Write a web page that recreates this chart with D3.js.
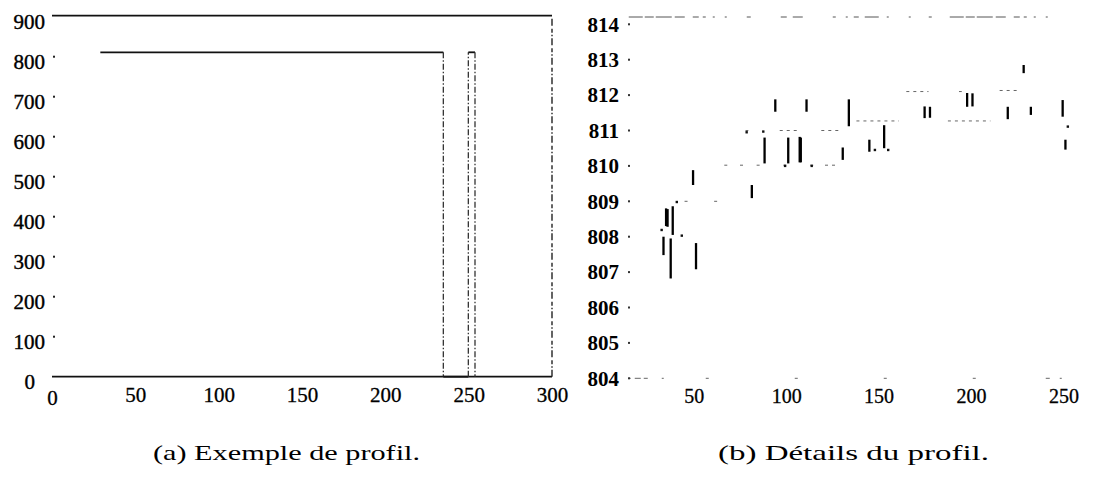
<!DOCTYPE html>
<html>
<head>
<meta charset="utf-8">
<script src="https://cdn.jsdelivr.net/npm/d3@7"></script>
<style>
  body { margin: 0; background: #fff; }
  text { font-family: "Liberation Serif", "DejaVu Serif", serif; fill: #000; }
</style>
</head>
<body>
<div id="chart"></div>
<script>
// (a) whole profile
const leftXTicks = [0, 50, 100, 150, 200, 250, 300];
const leftYTicks = [0, 100, 200, 300, 400, 500, 600, 700, 800, 900];
const profileX = [29, 234.8, 234.8, 249.8, 249.8, 253.8, 253.8];
const profileY = [811, 811, 0, 0, 811, 811, 0];

// (b) detail of the profile
const detailXTicks = [50, 100, 150, 200, 250];
const detailYTicks = [804, 805, 806, 807, 808, 809, 810, 811, 812, 813, 814];
// vertical jumps of the profile
const jumpX    = [33.6, 35.0, 35.8, 37.5, 38.6, 49.6, 51.2, 81.4, 88.3, 94.1, 101.1, 107.3, 107.9, 111.0, 130.6, 133.9, 145.0, 153.0, 174.9, 177.8, 197.9, 200.8, 219.9, 228.5, 232.4, 249.6, 251.1];
const jumpLow  = [807.48, 808.30, 808.28, 806.82, 808.05, 809.46, 807.08, 809.09, 810.07, 811.53, 810.07, 810.10, 810.10, 811.53, 810.17, 811.12, 810.40, 810.50, 811.35, 811.36, 811.67, 811.68, 811.32, 812.62, 811.44, 811.39, 810.46];
const jumpHigh = [808.00, 808.80, 808.78, 807.95, 808.86, 809.88, 807.82, 809.46, 810.80, 811.88, 810.80, 810.82, 810.80, 811.88, 810.52, 811.88, 810.74, 811.15, 811.68, 811.67, 812.06, 812.05, 811.67, 812.85, 811.67, 811.86, 810.74];
// isolated points
const dotX = [32.6, 40.8, 43.5, 148.0, 155.2, 252.4, 78.6, 87.6, 99.4, 113.8];
const dotY = [808.19, 808.98, 808.03, 810.45, 810.45, 811.11, 810.95, 810.97, 810.0, 810.0];
// faint flat stretches
const levelX0 = [45.0, 61.0, 66.5, 75.0, 84.0, 98.5, 113.0, 121.0, 78.0, 96.5, 119.0, 138.0, 187.5, 165.0, 193.5, 215.5];
const levelX1 = [48.5, 63.0, 68.5, 77.6, 86.8, 100.0, 115.0, 127.3, 79.5, 106.0, 129.0, 161.0, 210.5, 177.0, 195.0, 226.5];
const levelY  = [809.0, 809.0, 810.02, 810.02, 810.02, 810.02, 810.02, 810.02, 811.0, 811.0, 811.0, 811.27, 811.27, 812.1, 812.1, 812.13];

const svg = d3.select('#chart')
  .append('svg')
  .attr('width', 1115)
  .attr('height', 477);

// ---------- left chart ----------
const xa = d3.scaleLinear().domain([0, 300]).range([52, 552]);
const ya = d3.scaleLinear().domain([0, 900]).range([376.7, 16.7]);

const ga = svg.append('g');

// frame: top, bottom solid, right dashed
ga.append('line')
  .attr('x1', xa(0)).attr('x2', xa(300))
  .attr('y1', ya(900) - 1).attr('y2', ya(900) - 1)
  .attr('stroke', '#111').attr('stroke-width', 1.8);
ga.append('line')
  .attr('x1', xa(0)).attr('x2', xa(300))
  .attr('y1', ya(0)).attr('y2', ya(0))
  .attr('stroke', '#111').attr('stroke-width', 1.8);
ga.append('line')
  .attr('x1', xa(300)).attr('x2', xa(300))
  .attr('y1', ya(0)).attr('y2', ya(900))
  .attr('stroke', '#222').attr('stroke-width', 1.4)
  .attr('stroke-dasharray', '7,2,1.5,2,4,3');

// profile segments
const segs = d3.range(profileX.length - 1).map(i => ({
  x1: profileX[i], y1: profileY[i], x2: profileX[i + 1], y2: profileY[i + 1]
}));
ga.selectAll('line.seg')
  .data(segs)
  .enter()
  .append('line')
  .attr('class', 'seg')
  .attr('x1', d => xa(d.x1)).attr('x2', d => xa(d.x2))
  .attr('y1', d => ya(d.y1)).attr('y2', d => ya(d.y2))
  .attr('stroke', d => d.x1 === d.x2 ? '#333' : '#111')
  .attr('stroke-width', d => d.x1 === d.x2 ? 1.3 : 1.8)
  .attr('stroke-dasharray', d => d.x1 === d.x2 ? '6,2,1.5,2' : null);

// axes
const axLeftA = ga.append('g')
  .attr('transform', 'translate(45,0)')
  .call(d3.axisLeft(ya).tickValues(leftYTicks).tickSize(0).tickPadding(0));
axLeftA.select('.domain').remove();
axLeftA.selectAll('text')
  .attr('y', 5)
  .attr('dx', d => d === 0 ? -10 : 0)
  .style('font-size', '21px')
  .style('font-family', '"Liberation Serif", serif')
  .style('stroke', '#000').style('stroke-width', 0.4);

ga.selectAll('rect.tickdot')
  .data(leftYTicks.filter(d => d > 0 && d < 900))
  .enter()
  .append('rect')
  .attr('class', 'tickdot')
  .attr('x', 53).attr('y', d => ya(d) - 1)
  .attr('width', 2).attr('height', 2)
  .attr('fill', '#222');

const axBottomA = ga.append('g')
  .attr('transform', 'translate(0,' + ya(0) + ')')
  .call(d3.axisBottom(xa).tickValues(leftXTicks).tickSize(0));
axBottomA.select('.domain').remove();
axBottomA.selectAll('text')
  .attr('y', d => d === 0 ? 21 : 18)
  .attr('dy', '0.35em')
  .style('font-size', '21px')
  .style('font-family', '"Liberation Serif", serif')
  .style('stroke', '#000').style('stroke-width', 0.3);

// ---------- right chart ----------
const xb = d3.scaleLinear().domain([0, 250]).range([601.4, 1063.4]);
const yb = d3.scaleLinear().domain([804, 814]).range([378.3, 24.3]);

const gb = svg.append('g');

gb.append('line')
  .attr('x1', xb(14.8)).attr('x2', xb(251))
  .attr('y1', 17).attr('y2', 17)
  .attr('stroke', '#555').attr('stroke-width', 1)
  .attr('stroke-dasharray', '14,2,9,2,16,3,10,8,6,4,3,7,2,10,2,20,4,30,6,6,10,30,3,10,2,6,5,6,14,8,2,20,2,18,3,18');
gb.append('line')
  .attr('x1', xb(14.8)).attr('x2', xb(251))
  .attr('y1', yb(804)).attr('y2', yb(804))
  .attr('stroke', '#666').attr('stroke-width', 1)
  .attr('stroke-dasharray', '2,4,6,3,4,14,2,42,3,86,3,86,3,86,3,70,4,10');

gb.selectAll('line.level')
  .data(levelY.map((v, i) => ({ x0: levelX0[i], x1: levelX1[i], y: v })))
  .enter()
  .append('line')
  .attr('class', 'level')
  .attr('x1', d => xb(d.x0)).attr('x2', d => xb(d.x1))
  .attr('y1', d => yb(d.y)).attr('y2', d => yb(d.y))
  .attr('stroke', '#666').attr('stroke-width', 1)
  .attr('stroke-dasharray', '3,4');

gb.selectAll('line.jump')
  .data(jumpX.map((x, i) => ({ x: x, lo: jumpLow[i], hi: jumpHigh[i] })))
  .enter()
  .append('line')
  .attr('class', 'jump')
  .attr('x1', d => xb(d.x)).attr('x2', d => xb(d.x))
  .attr('y1', d => yb(d.lo)).attr('y2', d => yb(d.hi))
  .attr('stroke', '#000').attr('stroke-width', 2.3);

gb.selectAll('rect.dot')
  .data(dotX.map((x, i) => ({ x: x, y: dotY[i] })))
  .enter()
  .append('rect')
  .attr('class', 'dot')
  .attr('x', d => xb(d.x) - 1.2).attr('y', d => yb(d.y) - 1.2)
  .attr('width', 2.4).attr('height', 2.4)
  .attr('fill', '#111');

const axLeftB = gb.append('g')
  .attr('transform', 'translate(619,0)')
  .call(d3.axisLeft(yb).tickValues(detailYTicks).tickSize(0).tickPadding(0));
axLeftB.select('.domain').remove();
axLeftB.selectAll('text')
  .style('font-size', '21px')
  .style('font-weight', 'bold')
  .style('font-family', '"Liberation Serif", serif');

gb.selectAll('rect.tickdot')
  .data(detailYTicks)
  .enter()
  .append('rect')
  .attr('class', 'tickdot')
  .attr('x', 628).attr('y', d => yb(d) - 1)
  .attr('width', 2).attr('height', 2)
  .attr('fill', '#333');

const axBottomB = gb.append('g')
  .attr('transform', 'translate(0,' + yb(804) + ')')
  .call(d3.axisBottom(xb).tickValues(detailXTicks).tickSize(0));
axBottomB.select('.domain').remove();
axBottomB.selectAll('text')
  .attr('y', 18)
  .attr('dy', '0.35em')
  .style('font-size', '20px')
  .style('font-family', '"Liberation Serif", serif')
  .style('stroke', '#000').style('stroke-width', 0.3);

// ---------- captions ----------
svg.append('text')
  .attr('x', 286.5).attr('y', 455)
  .attr('text-anchor', 'middle')
  .attr('dominant-baseline', 'middle')
  .attr('textLength', 267).attr('lengthAdjust', 'spacingAndGlyphs')
  .style('font-size', '21px')
  .text('(a) Exemple de profil.');

svg.append('text')
  .attr('x', 853.5).attr('y', 455)
  .attr('text-anchor', 'middle')
  .attr('dominant-baseline', 'middle')
  .attr('textLength', 271).attr('lengthAdjust', 'spacingAndGlyphs')
  .style('font-size', '21px')
  .text('(b) Détails du profil.');
</script>
</body>
</html>
